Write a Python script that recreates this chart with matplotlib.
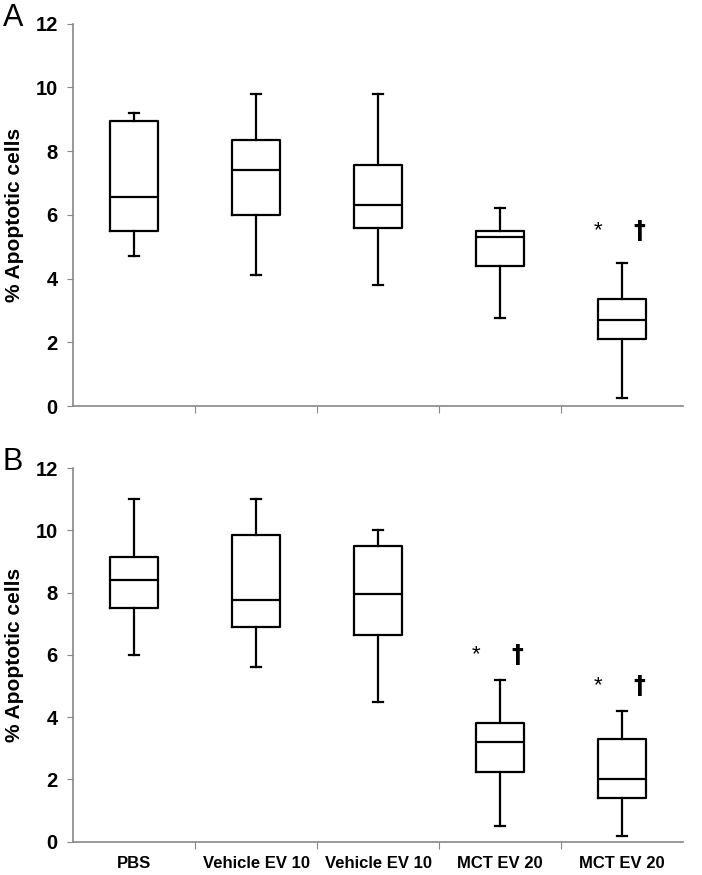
import matplotlib.pyplot as plt

categories = ["PBS", "Vehicle EV 10", "Vehicle EV 10", "MCT EV 20", "MCT EV 20"]

# panel A: whisker low, q1, median, q3, whisker high
a_low = [4.7, 4.1, 3.8, 2.75, 0.25]
a_q1 = [5.5, 6.0, 5.6, 4.4, 2.1]
a_med = [6.55, 7.4, 6.3, 5.3, 2.7]
a_q3 = [8.95, 8.35, 7.55, 5.5, 3.35]
a_high = [9.2, 9.8, 9.8, 6.2, 4.5]
a_marks = {5: 5.5}

# panel B
b_low = [6.0, 5.6, 4.5, 0.5, 0.2]
b_q1 = [7.5, 6.9, 6.65, 2.25, 1.4]
b_med = [8.4, 7.75, 7.95, 3.2, 2.0]
b_q3 = [9.15, 9.85, 9.5, 3.8, 3.3]
b_high = [11.0, 11.0, 10.0, 5.2, 4.2]
b_marks = {4: 6.0, 5: 5.0}

FONT = ["Liberation Sans", "DejaVu Sans"]


def draw_panel(ax, low, q1, med, q3, high, marks, show_labels):
    stats = []
    for i in range(len(low)):
        stats.append({"whislo": low[i], "q1": q1[i], "med": med[i],
                      "q3": q3[i], "whishi": high[i], "fliers": []})
    ax.bxp(stats, positions=range(1, len(stats) + 1), widths=0.4,
           capwidths=0.08, showfliers=False,
           boxprops=dict(color="black", linewidth=1.6),
           medianprops=dict(color="black", linewidth=1.6),
           whiskerprops=dict(color="black", linewidth=1.6),
           capprops=dict(color="black", linewidth=1.6))
    for pos, yv in marks.items():
        ax.text(pos - 0.2, yv, "*", ha="center", va="center",
                fontsize=16, family=FONT)
        ax.text(pos + 0.14, yv, "\u2020", ha="center", va="center",
                fontsize=17, fontweight="bold", family=["DejaVu Sans"])
    ax.set_xlim(0.5, 5.5)
    ax.set_ylim(0, 12)
    ax.set_yticks(range(0, 13, 2))
    ax.set_yticklabels([str(v) for v in range(0, 13, 2)],
                       fontsize=14.5, fontweight="bold", family=FONT)
    ax.set_xticks([1.5, 2.5, 3.5, 4.5], minor=False)
    ax.set_xticklabels([])
    if show_labels:
        ax.set_xticks(range(1, 6), minor=True)
        ax.set_xticklabels(categories, minor=True, fontsize=12,
                           fontweight="bold", family=FONT)
        ax.tick_params(axis="x", which="minor", length=0, pad=10)
    ax.tick_params(axis="x", which="major", length=5, color="#888888")
    ax.tick_params(axis="y", length=4, color="#888888", pad=7)
    ax.spines["top"].set_visible(False)
    ax.spines["right"].set_visible(False)
    ax.spines["left"].set_color("#888888")
    ax.spines["bottom"].set_color("#888888")
    ax.spines["left"].set_linewidth(1.2)
    ax.spines["bottom"].set_linewidth(1.2)
    ax.set_ylabel("% Apoptotic cells", fontsize=15, fontweight="bold",
                  family=FONT)
    ax.yaxis.set_label_coords(-0.08, 0.5)


fig = plt.figure(figsize=(7.02, 8.75), dpi=100)
ax_a = fig.add_axes([0.104, 0.536, 0.869, 0.437])
ax_b = fig.add_axes([0.104, 0.038, 0.869, 0.427])

draw_panel(ax_a, a_low, a_q1, a_med, a_q3, a_high, a_marks, False)
draw_panel(ax_b, b_low, b_q1, b_med, b_q3, b_high, b_marks, True)

fig.text(0.004, 1 - 18 / 875, "A", fontsize=22, ha="left", va="center",
         family=FONT)
fig.text(0.004, 1 - 462 / 875, "B", fontsize=22, ha="left", va="center",
         family=FONT)

fig.savefig("out.png", dpi=100)
